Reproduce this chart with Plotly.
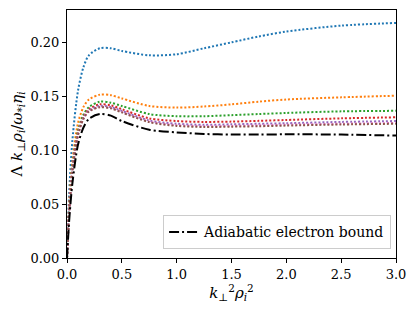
import plotly.graph_objects as go

x = [0, 0.02, 0.05, 0.1, 0.15, 0.2, 0.3, 0.4, 0.5, 0.75, 1.0, 1.25, 1.5, 1.75, 2.0, 2.5, 3.0]

blue   = [0, 0.060, 0.110, 0.155, 0.177, 0.188, 0.1945, 0.1945, 0.192, 0.188, 0.189, 0.1945, 0.200, 0.2055, 0.210, 0.2155, 0.2180]
orange = [0, 0.050, 0.090, 0.125, 0.140, 0.147, 0.1515, 0.1510, 0.148, 0.141, 0.1395, 0.1405, 0.1425, 0.1450, 0.1470, 0.1490, 0.1505]
green  = [0, 0.045, 0.085, 0.118, 0.133, 0.140, 0.1450, 0.1440, 0.141, 0.1335, 0.1315, 0.1315, 0.1325, 0.1335, 0.1345, 0.1360, 0.1365]
red    = [0, 0.044, 0.083, 0.116, 0.131, 0.138, 0.1425, 0.1415, 0.138, 0.1295, 0.1270, 0.1262, 0.1265, 0.1272, 0.1280, 0.1295, 0.1305]
purple = [0, 0.043, 0.082, 0.115, 0.130, 0.137, 0.1410, 0.1400, 0.1365, 0.1275, 0.1245, 0.1235, 0.1240, 0.1245, 0.1250, 0.1262, 0.1270]
pink   = [0, 0.043, 0.081, 0.114, 0.129, 0.136, 0.1400, 0.1390, 0.1355, 0.1265, 0.1232, 0.1222, 0.1225, 0.1230, 0.1236, 0.1245, 0.1252]
brown  = [0, 0.043, 0.081, 0.114, 0.129, 0.136, 0.1398, 0.1388, 0.1350, 0.1260, 0.1225, 0.1215, 0.1218, 0.1222, 0.1228, 0.1238, 0.1245]
black  = [0, 0.035, 0.070, 0.105, 0.121, 0.129, 0.1335, 0.1320, 0.127, 0.119, 0.1165, 0.1150, 0.1145, 0.1145, 0.1147, 0.1145, 0.1135]

series = [
    (blue, "#1f77b4"), (orange, "#ff7f0e"), (green, "#2ca02c"), (red, "#d62728"),
    (purple, "#9467bd"), (pink, "#e377c2"), (brown, "#8c564b"),
]

fig = go.Figure()
for ys, c in series:
    fig.add_trace(go.Scatter(x=x, y=ys, mode="lines", showlegend=False,
                             line=dict(color=c, width=2, dash="2px,2px", shape="spline", smoothing=0.8)))
fig.add_trace(go.Scatter(x=x, y=black, mode="lines", name="Adiabatic electron bound",
                         line=dict(color="black", width=2, dash="10px,3px,2px,3px", shape="spline", smoothing=0.8)))

font = "DejaVu Serif"
fig.update_layout(
    width=407, height=303,
    margin=dict(l=59, r=19, t=2, b=53),
    paper_bgcolor="white", plot_bgcolor="white",
    font=dict(family=font, size=13, color="black"),
    legend=dict(x=0.985, xanchor="right", y=0.035, yanchor="bottom",
                bgcolor="white", bordercolor="#cccccc", borderwidth=1,
                font=dict(family=font, size=14)),
    xaxis=dict(range=[0, 3], dtick=0.5, tickformat=".1f", showgrid=False, zeroline=False,
               showline=True, linecolor="black", linewidth=1, mirror=True,
               ticks="outside", ticklen=4, tickcolor="black",
               tickfont=dict(family=font, size=13),
               title=dict(text="<i>k</i><sub>⊥</sub><sup>2</sup><i>ρ</i><sub><i>i</i></sub><sup>2</sup>",
                          font=dict(family=font, size=15), standoff=2)),
    yaxis=dict(range=[0, 0.23], dtick=0.05, tickformat=".2f", showgrid=False, zeroline=False,
               showline=True, linecolor="black", linewidth=1, mirror=True,
               ticks="outside", ticklen=4, tickcolor="black",
               tickfont=dict(family=font, size=13),
               title=dict(text="Λ <i>k</i><sub>⊥</sub><i>ρ</i><sub><i>i</i></sub>/<i>ω</i><sub>*<i>i</i></sub><i>η</i><sub><i>i</i></sub>",
                          font=dict(family=font, size=15), standoff=6)),
)
fig.write_html("out.html")
